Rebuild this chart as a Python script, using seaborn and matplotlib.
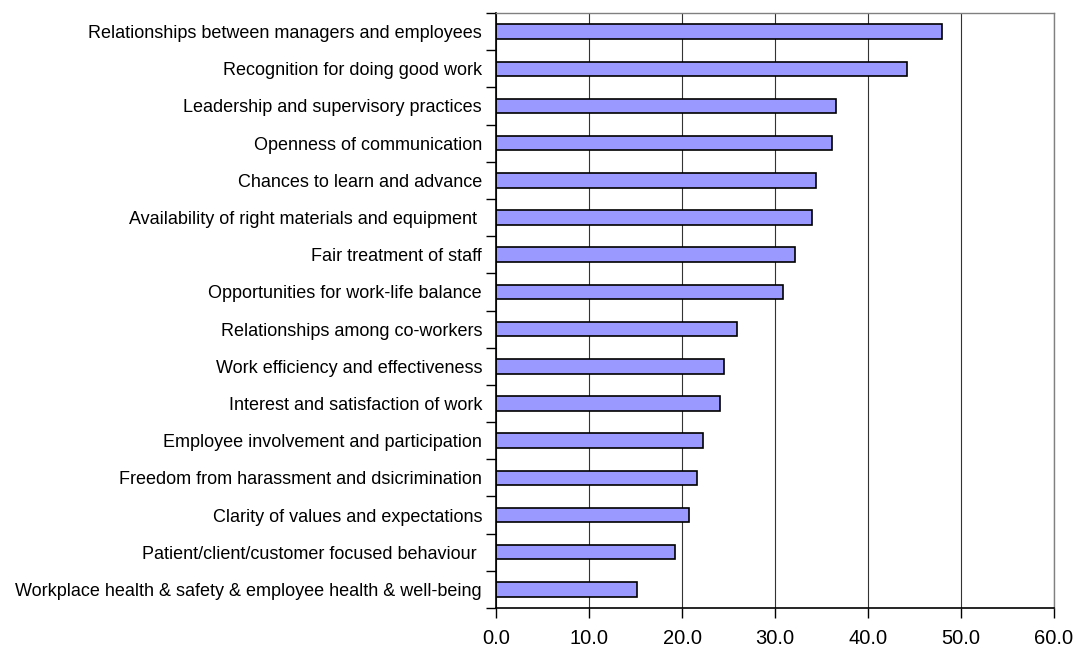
import matplotlib
matplotlib.use('Agg')
import matplotlib.pyplot as plt
import seaborn as sns
import pandas as pd
from matplotlib.ticker import FixedLocator

# Datos (de arriba hacia abajo)
categorias = [
    'Relationships between managers and employees',
    'Recognition for doing good work',
    'Leadership and supervisory practices',
    'Openness of communication',
    'Chances to learn and advance',
    'Availability of right materials and equipment ',
    'Fair treatment of staff',
    'Opportunities for work-life balance',
    'Relationships among co-workers',
    'Work efficiency and effectiveness',
    'Interest and satisfaction of work',
    'Employee involvement and participation',
    'Freedom from harassment and dsicrimination',
    'Clarity of values and expectations',
    'Patient/client/customer focused behaviour ',
    'Workplace health & safety & employee health & well-being',
]
valores = [48.0, 44.2, 36.6, 36.1, 34.4, 34.0, 32.2, 30.9,
           25.9, 24.5, 24.1, 22.3, 21.6, 20.7, 19.2, 15.2]
ticks_x = [0, 10, 20, 30, 40, 50, 60]

df = pd.DataFrame({'categoria': categorias, 'valor': valores})

sns.set_style('white')
plt.rcParams['font.family'] = ['Liberation Sans', 'DejaVu Sans']
plt.rcParams['text.color'] = 'black'
plt.rcParams['xtick.color'] = 'black'
plt.rcParams['ytick.color'] = 'black'

fig = plt.figure(figsize=(10.78, 6.5), dpi=100)
ax = fig.add_axes([496 / 1078, 1 - 608 / 650, 558 / 1078, 595 / 650])

sns.barplot(data=df, x='valor', y='categoria', orient='h', color='#9999FF',
            edgecolor='black', linewidth=1.2, width=0.39, saturation=1, ax=ax)

ax.set_xlim(0, 60)
ax.set_ylim(len(categorias) - 0.5, -0.5)
ax.set_xticks(ticks_x)
ax.set_xticklabels([f'{t:.1f}' for t in ticks_x], fontsize=14.5, color='black')
ax.set_xlabel('')
ax.set_ylabel('')
ax.tick_params(axis='y', which='major', length=0, labelsize=13, pad=10,
               labelcolor='black')
ax.yaxis.set_minor_locator(FixedLocator([i - 0.5 for i in range(len(categorias) + 1)]))
ax.tick_params(axis='y', which='minor', left=True, length=7, width=1, color='black',
               direction='out')
ax.tick_params(axis='x', which='major', bottom=True, length=7, width=1, color='black',
               direction='out', pad=8)

ax.grid(True, axis='x', color='#333333', linewidth=0.8)
ax.set_axisbelow(True)

for lado in ['left', 'bottom']:
    ax.spines[lado].set_color('black')
    ax.spines[lado].set_linewidth(1.2)
for lado in ['top', 'right']:
    ax.spines[lado].set_color('#808080')
    ax.spines[lado].set_linewidth(1.0)

fig.savefig('out.png', dpi=100)
